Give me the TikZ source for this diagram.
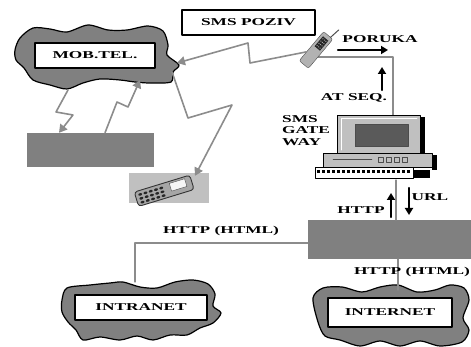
\documentclass[tikz,border=0pt]{standalone}
\usepackage{fontspec}
\newfontfamily\widefont{Liberation Serif}[FakeStretch=1.65]
\usetikzlibrary{arrows.meta,calc,positioning}
\definecolor{cloudgray}{HTML}{808080}
\definecolor{linegray}{HTML}{8C8C8C}
\definecolor{panelgray}{HTML}{C0C0C0}
\definecolor{screengray}{HTML}{5A5A5A}

\begin{document}
\begin{tikzpicture}[x=1pt,y=-1pt,font=\widefont\bfseries\fontsize{10.5}{11.5}\selectfont,line cap=round,line join=round]
  \tikzset{
    namebox/.style={draw=black,line width=1.4pt,fill=white,inner sep=0pt},
    cloud/.style={fill=cloudgray,draw=black,line width=1.2pt},
    block/.style={fill=cloudgray,inner sep=0pt},
    zap/.style={draw=linegray,line width=1.6pt,-{Triangle[length=8pt,width=9pt]}},
    wire/.style={draw=linegray,line width=1.3pt},
    flow/.style={line width=2.2pt,-{Triangle[length=7pt,width=8pt]}},
  }
  \useasboundingbox (0,0) rectangle (471,347);
  \clip (0,0) rectangle (471,347);

  % Clouds
  \draw[cloud] plot[smooth cycle] coordinates {(15,50)(20,38)(33,28)(50,29)(67,32)(88,25)(108,30)(127,30)(148,26)(163,31)(168,45)(167,55)(179,65)(173,72)(171,82)(150,83)(135,82)(120,80)(100,79)(83,83)(67,89)(50,85)(33,80)(24,68)(16,60)};
  \draw[cloud] plot[smooth cycle] coordinates {(62,300)(67,288)(90,285)(110,283)(123,282)(140,287)(157,288)(175,282)(193,280)(208,284)(215,294)(213,306)(221,313)(213,323)(200,328)(187,335)(170,335)(153,340)(137,336)(120,340)(100,337)(83,340)(76,330)(68,322)(62,312)};
  \draw[cloud] plot[smooth cycle] coordinates {(313,298)(323,288)(342,287)(362,292)(380,287)(398,285)(417,292)(435,290)(450,285)(464,288)(469,300)(463,318)(469,330)(462,342)(440,346)(420,341)(400,346)(380,341)(360,346)(340,340)(325,336)(318,322)};
  \node[namebox,minimum width=120pt,minimum height=25pt] (mobtel) at (95,55.5) {MOB.TEL.};
  \node[namebox,minimum width=132pt,minimum height=25pt] (intranet) at (141,307.5) {INTRANET};
  \node[namebox,minimum width=124pt,minimum height=29pt] (internet) at (390,312.5) {INTERNET};
  \coordinate (mob-b) at (68,90);
  \coordinate (mob-in) at (140,80);
  \coordinate (mob-r) at (172,72);
  \coordinate (mob-e) at (177,63);

  % Boxes
  \node[namebox,minimum width=133pt,minimum height=25pt] (poziv) at (248.5,22.5) {SMS POZIV};
  \node[block,minimum width=127pt,minimum height=34pt] (bsc) at (90.5,150) {};
  \node[block,minimum width=165pt,minimum height=39pt] (www) at (390.5,239.5) {};

  % Small handset icon
  \node[fill=panelgray,minimum width=80pt,minimum height=30pt,inner sep=0pt] (nokia) at (169,188) {};
  \begin{scope}[shift={(165,190)},rotate=17]
    \filldraw[fill=gray!70,draw=black!80,line width=0.9pt,rounded corners=3pt] (-30,-7) rectangle (28,8);
    \filldraw[fill=white!92!gray,draw=black!70] (6,-5) rectangle (22,3);
    \foreach \i in {0,...,4}
      \foreach \j in {0,1,2}
        \fill[black!85] ({-25+5.5*\i},{-3+4*\j}) ellipse (2pt and 1.3pt);
  \end{scope}

  % Mobile phone
  \coordinate (hs-foot) at (318,57);
  \coordinate (gw-top) at (393,115);
  \draw[wire] (hs-foot) -| (gw-top);
  \node[rotate=-40,draw=gray!60!black,fill=gray!60,rounded corners=2pt,minimum width=12pt,minimum height=38pt,inner sep=0pt] (handset) at (316,50) {};
  \begin{scope}[shift={(316,50)},rotate=-40]
    \fill[gray!30!black] (-3.5,-15) rectangle (3.5,-2);
    \foreach \j in {-13,-10,-7,-4}
      \foreach \i in {-2,0,2}
        \fill[gray!70] (\i,\j) circle (0.7pt);
    \draw[gray!60!black,line width=1pt] (3,-19) -- (4.5,-30);
  \end{scope}

  % Computer
  \node[minimum width=122pt,minimum height=66pt] (gw) at (376,147) {};
  \filldraw[fill=panelgray,draw=black,line width=0.6pt] (337,115) rectangle (420,153);
  \fill[black] (420,117) rectangle (425,153);
  \filldraw[fill=screengray,draw=black!70,line width=1pt] (355,125) rectangle (408,147);
  \draw[white,line width=0.8pt] (341,150) -- (341,118) -- (417,118);
  \filldraw[fill=panelgray,draw=black,line width=0.6pt] (323,153) rectangle (432,167);
  \fill[black] (432,155) rectangle (437,170);
  \draw[black!70] (333,159) -- (372,159);
  \foreach \x in {378,386,394,402}
    \draw[black!70] (\x,157) rectangle +(5,5);
  \filldraw[fill=white,draw=black,line width=0.6pt] (315,167) rectangle (413,178);
  \foreach \x in {317,322,...,408}
    \fill[black] (\x,170) rectangle +(3,3);
  \fill[black] (413,170) rectangle (430,178);

  % Radio links
  \draw[zap] (mob-b) -- (56,112) -- (73,115) -- ([xshift=-31.5pt]bsc.north);
  \draw[zap] ([xshift=14.5pt]bsc.north) -- (117,102) -- (128,107) -- (mob-in);
  \draw[zap] (mob-r) -- (188,118) -- (232,105) -- ([xshift=26pt,yshift=-3pt]nokia.north);
  \draw[zap] (handset) -- (250,63) -- (248,43) -- (mob-e);

  % Wired links
  \draw[wire] (396,180) -- (396,220);
  \draw[wire] (www.west |- 0,243) -| (135,282);
  \draw[wire] (398,259) -- (398,290);

  % Labels and message flow
  \node (poruka) at (380,39) {PORUKA};
  \draw[flow] (338,50) -- (388,50);
  \node (atseq) at (354,98) {AT SEQ.};
  \draw[flow] (382,90) -- (382,67);
  \node[align=left,anchor=north west,inner sep=0pt] (gwname) at (282,115) {SMS\\GATE\\WAY};
  \node (url) at (430,197) {URL};
  \node (http) at (361,210) {HTTP};
  \draw[flow] (391,217) -- (391,193);
  \draw[flow] (409,188) -- (409,215);
  \node (htmlin) at (221,231) {HTTP (HTML)};
  \node (htmlout) at (412,272) {HTTP (HTML)};
\end{tikzpicture}
\end{document}
